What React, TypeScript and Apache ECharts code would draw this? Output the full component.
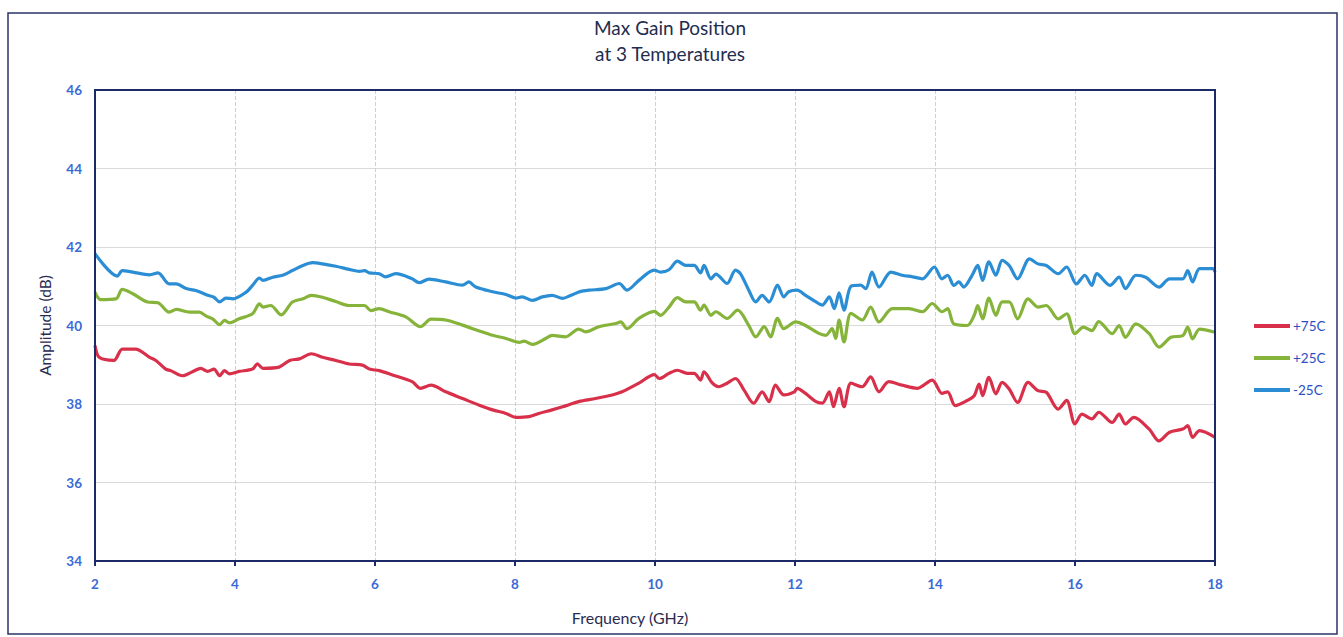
import React, { useEffect, useRef } from "react";
import * as echarts from "echarts";

const titleLines = ["Max Gain Position", "at 3 Temperatures"];
const xAxisName = "Frequency (GHz)";
const yAxisName = "Amplitude (dB)";
const seriesNames = ["+75C", "+25C", "-25C"];

// [frequency GHz, amplitude dB]
const red75: number[][] = [
  [2.0, 39.49], [2.06, 39.19], [2.27, 39.11], [2.39, 39.4], [2.58, 39.4], [2.78, 39.19], [2.87, 39.11],
  [3.01, 38.89], [3.08, 38.85], [3.25, 38.72], [3.4, 38.83], [3.51, 38.91], [3.61, 38.83], [3.7, 38.89],
  [3.78, 38.72], [3.85, 38.85], [3.92, 38.77], [4.06, 38.83], [4.25, 38.89], [4.32, 39.02], [4.4, 38.91],
  [4.63, 38.94], [4.78, 39.11], [4.92, 39.15], [5.09, 39.28], [5.25, 39.19], [5.44, 39.11], [5.63, 39.02],
  [5.82, 38.99], [5.92, 38.89], [6.06, 38.85], [6.25, 38.74], [6.53, 38.57], [6.65, 38.4], [6.8, 38.48],
  [7.01, 38.31], [7.25, 38.14], [7.49, 37.97], [7.68, 37.85], [7.87, 37.76], [8.01, 37.66], [8.2, 37.68],
  [8.34, 37.76], [8.53, 37.85], [8.68, 37.93], [8.91, 38.06], [9.15, 38.14], [9.39, 38.23], [9.53, 38.31],
  [9.77, 38.53], [9.99, 38.75], [10.06, 38.65], [10.2, 38.78], [10.32, 38.86], [10.46, 38.78], [10.56, 38.78],
  [10.65, 38.61], [10.7, 38.82], [10.82, 38.53], [10.91, 38.44], [11.03, 38.53], [11.15, 38.65], [11.27, 38.36],
  [11.41, 38.02], [11.53, 38.31], [11.63, 38.06], [11.72, 38.48], [11.84, 38.23], [11.99, 38.31], [12.03, 38.4],
  [12.15, 38.27], [12.3, 38.06], [12.39, 38.02], [12.49, 38.31], [12.55, 37.93], [12.63, 38.4], [12.7, 37.93],
  [12.8, 38.53], [12.96, 38.44], [13.08, 38.69], [13.2, 38.31], [13.34, 38.57], [13.53, 38.48], [13.75, 38.4],
  [13.96, 38.61], [14.1, 38.27], [14.18, 38.31], [14.29, 37.96], [14.46, 38.09], [14.56, 38.21], [14.63, 38.51],
  [14.68, 38.21], [14.77, 38.68], [14.87, 38.26], [14.96, 38.55], [15.06, 38.38], [15.18, 38.04], [15.33, 38.55],
  [15.47, 38.34], [15.59, 38.3], [15.76, 37.87], [15.88, 38.09], [16.0, 37.49], [16.1, 37.74], [16.24, 37.62],
  [16.34, 37.79], [16.53, 37.53], [16.63, 37.74], [16.72, 37.49], [16.84, 37.66], [17.06, 37.36], [17.2, 37.06],
  [17.35, 37.28], [17.54, 37.36], [17.61, 37.45], [17.68, 37.15], [17.78, 37.32], [18.0, 37.15],
];

const green25: number[][] = [
  [2.0, 40.85], [2.08, 40.66], [2.3, 40.68], [2.39, 40.92], [2.54, 40.81], [2.75, 40.6], [2.9, 40.58],
  [3.06, 40.34], [3.16, 40.41], [3.35, 40.34], [3.49, 40.34], [3.59, 40.24], [3.68, 40.17], [3.78, 40.02],
  [3.85, 40.13], [3.92, 40.07], [4.06, 40.17], [4.25, 40.3], [4.35, 40.55], [4.4, 40.47], [4.51, 40.51],
  [4.66, 40.27], [4.82, 40.6], [4.97, 40.68], [5.09, 40.77], [5.25, 40.72], [5.44, 40.61], [5.63, 40.51],
  [5.85, 40.51], [5.94, 40.38], [6.06, 40.43], [6.2, 40.35], [6.44, 40.22], [6.65, 39.97], [6.8, 40.16],
  [7.01, 40.14], [7.25, 40.01], [7.49, 39.86], [7.68, 39.75], [7.87, 39.67], [8.06, 39.57], [8.13, 39.6],
  [8.25, 39.52], [8.44, 39.67], [8.53, 39.75], [8.72, 39.71], [8.91, 39.91], [9.01, 39.84], [9.2, 39.97],
  [9.44, 40.05], [9.51, 40.09], [9.6, 39.92], [9.77, 40.18], [9.99, 40.36], [10.08, 40.26], [10.2, 40.47],
  [10.32, 40.71], [10.44, 40.6], [10.56, 40.6], [10.65, 40.39], [10.7, 40.52], [10.8, 40.26], [10.87, 40.35],
  [11.03, 40.18], [11.18, 40.39], [11.34, 40.0], [11.44, 39.71], [11.56, 39.97], [11.65, 39.71], [11.75, 40.18],
  [11.84, 39.92], [12.01, 40.09], [12.15, 40.0], [12.34, 39.8], [12.44, 39.75], [12.53, 39.92], [12.58, 39.67],
  [12.63, 40.14], [12.7, 39.58], [12.8, 40.31], [12.96, 40.14], [13.08, 40.47], [13.2, 40.09], [13.39, 40.43],
  [13.63, 40.43], [13.82, 40.35], [13.96, 40.56], [14.1, 40.35], [14.18, 40.43], [14.27, 40.04], [14.46, 40.0],
  [14.56, 40.26], [14.61, 40.51], [14.68, 40.17], [14.77, 40.7], [14.87, 40.26], [14.96, 40.6], [15.06, 40.6],
  [15.18, 40.17], [15.33, 40.68], [15.47, 40.47], [15.59, 40.51], [15.76, 40.17], [15.88, 40.3], [16.0, 39.79],
  [16.12, 39.96], [16.24, 39.87], [16.34, 40.1], [16.53, 39.79], [16.63, 40.0], [16.72, 39.7], [16.87, 40.04],
  [17.06, 39.79], [17.2, 39.45], [17.37, 39.7], [17.54, 39.74], [17.61, 39.96], [17.68, 39.66], [17.78, 39.91],
  [18.0, 39.83],
];

const blueM25: number[][] = [
  [2.0, 41.83], [2.32, 41.26], [2.39, 41.4], [2.54, 41.36], [2.78, 41.29], [2.9, 41.34], [3.06, 41.06],
  [3.16, 41.06], [3.3, 40.94], [3.44, 40.89], [3.61, 40.77], [3.7, 40.72], [3.78, 40.6], [3.87, 40.7],
  [3.97, 40.68], [4.16, 40.85], [4.25, 41.02], [4.35, 41.21], [4.4, 41.15], [4.54, 41.23], [4.68, 41.28],
  [4.82, 41.4], [4.97, 41.53], [5.11, 41.6], [5.25, 41.57], [5.44, 41.51], [5.63, 41.43], [5.78, 41.38],
  [5.85, 41.4], [5.92, 41.34], [6.06, 41.32], [6.15, 41.24], [6.3, 41.32], [6.53, 41.19], [6.63, 41.09],
  [6.77, 41.18], [7.01, 41.11], [7.25, 41.03], [7.34, 41.11], [7.44, 40.98], [7.68, 40.86], [7.87, 40.79],
  [8.01, 40.7], [8.1, 40.73], [8.25, 40.64], [8.39, 40.73], [8.53, 40.77], [8.68, 40.69], [8.8, 40.77],
  [8.94, 40.87], [9.06, 40.9], [9.3, 40.94], [9.49, 41.07], [9.6, 40.9], [9.77, 41.15], [9.99, 41.41],
  [10.08, 41.36], [10.2, 41.42], [10.32, 41.64], [10.44, 41.53], [10.56, 41.53], [10.65, 41.34], [10.7, 41.53],
  [10.8, 41.19], [10.87, 41.31], [11.03, 41.07], [11.15, 41.41], [11.22, 41.32], [11.34, 40.9], [11.44, 40.6],
  [11.53, 40.77], [11.63, 40.6], [11.75, 41.03], [11.84, 40.73], [11.91, 40.86], [12.03, 40.9], [12.15, 40.77],
  [12.3, 40.6], [12.39, 40.52], [12.49, 40.73], [12.56, 40.43], [12.63, 40.83], [12.7, 40.39], [12.8, 41.0],
  [12.94, 41.03], [13.01, 40.94], [13.1, 41.36], [13.2, 40.98], [13.37, 41.36], [13.53, 41.28], [13.68, 41.24],
  [13.82, 41.19], [13.99, 41.49], [14.1, 41.19], [14.18, 41.28], [14.27, 41.02], [14.34, 41.11], [14.41, 40.98],
  [14.53, 41.28], [14.61, 41.53], [14.68, 41.15], [14.77, 41.62], [14.87, 41.28], [14.96, 41.66], [15.06, 41.53],
  [15.18, 41.19], [15.35, 41.7], [15.47, 41.57], [15.59, 41.53], [15.76, 41.32], [15.88, 41.49], [16.02, 41.06],
  [16.14, 41.28], [16.24, 41.02], [16.31, 41.32], [16.5, 41.02], [16.63, 41.23], [16.72, 40.94], [16.87, 41.28],
  [17.01, 41.23], [17.2, 40.98], [17.35, 41.19], [17.54, 41.19], [17.61, 41.4], [17.68, 41.11], [17.78, 41.45],
  [17.97, 41.45], [18.0, 41.36],
];

const colors = ["#d8304a", "#86b33a", "#2b8dd3"];
const FONT = "Lato, 'Open Sans', sans-serif";

const GRID = { left: 95, right: 128, top: 90, bottom: 76 };
const W = 1343;
const H = 637;

export default function App() {
  const ref = useRef<HTMLDivElement>(null);
  useEffect(() => {
    if (!ref.current) return;
    const chart = echarts.init(ref.current, undefined, { renderer: "svg" });
    const seriesData = [red75, green25, blueM25];
    chart.setOption({
      animation: false,
      backgroundColor: "#ffffff",
      textStyle: { fontFamily: FONT },
      title: {
        text: titleLines.join("\n"),
        left: 665,
        top: 9,
        textAlign: "center",
        textStyle: { fontSize: 19, fontWeight: "normal", color: "#1f2d4f", lineHeight: 26, fontFamily: FONT },
      },
      legend: {
        orient: "vertical",
        left: 1249,
        top: 314,
        itemWidth: 36,
        itemHeight: 4,
        itemGap: 18,
        icon: "rect",
        data: seriesNames,
        textStyle: { fontSize: 13.5, color: "#2d4fc4", fontFamily: FONT, padding: [0, 0, 0, -2] },
      },
      grid: {
        left: GRID.left,
        right: GRID.right,
        top: GRID.top,
        bottom: GRID.bottom,
        show: false,
        containLabel: false,
      },
      xAxis: {
        type: "value",
        min: 2,
        max: 18,
        interval: 2,
        name: xAxisName,
        nameLocation: "middle",
        nameGap: 48,
        nameTextStyle: { fontSize: 16, color: "#2b2b52", fontFamily: FONT, padding: [0, 50, 0, 0] },
        axisLine: { show: true, lineStyle: { color: "#1d2a68", width: 2 } },
        axisTick: { show: true, length: 5, lineStyle: { color: "#1d2a68", width: 2 } },
        axisLabel: { fontSize: 13.5, color: "#3a6ad6", margin: 16, fontWeight: "bold", fontFamily: FONT },
        splitLine: { show: true, lineStyle: { color: "#cfcfcf", type: "dashed", width: 1 } },
      },
      yAxis: {
        type: "value",
        min: 34,
        max: 46,
        interval: 2,
        name: yAxisName,
        nameLocation: "middle",
        nameGap: 42,
        nameTextStyle: { fontSize: 15.5, color: "#2b2b52", fontFamily: FONT },
        axisLine: { show: true, lineStyle: { color: "#1d2a68", width: 2 } },
        axisTick: { show: false },
        axisLabel: { fontSize: 13.5, color: "#3a6ad6", margin: 13, fontWeight: "bold", fontFamily: FONT },
        splitLine: { show: true, lineStyle: { color: "#dadada", type: "solid", width: 1 } },
      },
      series: seriesNames.map((name, i) => ({
        name,
        type: "line",
        data: seriesData[i],
        showSymbol: false,
        smooth: 0.3,
        lineStyle: { color: colors[i], width: 3.2 },
        itemStyle: { color: colors[i] },
        z: 3 - i,
      })),
      graphic: [
        {
          type: "rect",
          shape: {
            x: GRID.left,
            y: GRID.top,
            width: W - GRID.left - GRID.right,
            height: H - GRID.top - GRID.bottom,
          },
          style: { fill: "none", stroke: "#1d2a68", lineWidth: 2 },
          silent: true,
          z: 10,
        },
        {
          type: "rect",
          shape: { x: 8, y: 13, width: 1329, height: 621 },
          style: { fill: "none", stroke: "#2a3468", lineWidth: 1.5 },
          silent: true,
          z: 10,
        },
      ],
    });
    return () => chart.dispose();
  }, []);
  return (
    <div
      ref={ref}
      style={{ position: "fixed", left: 0, top: 0, width: W, height: H }}
    />
  );
}
